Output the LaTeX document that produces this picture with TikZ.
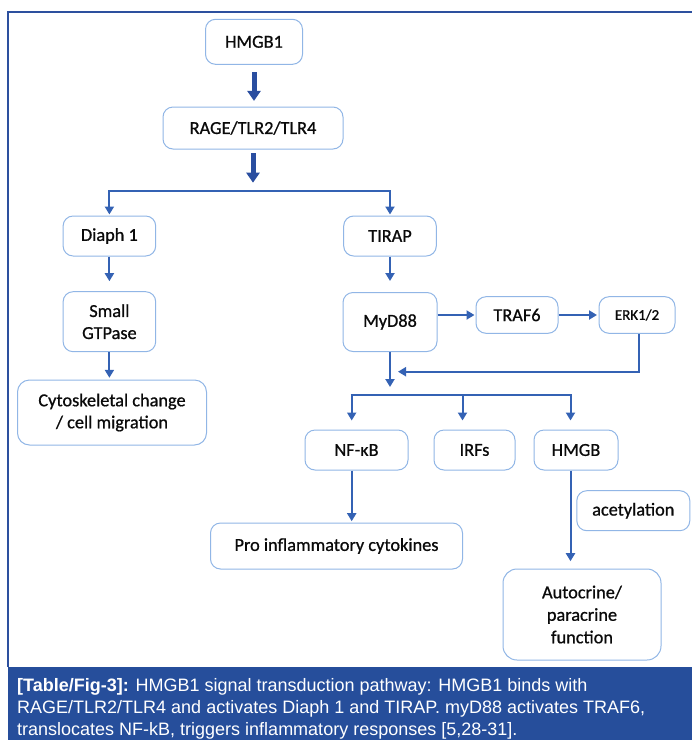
\documentclass[tikz,border=0pt]{standalone}
\usepackage{fontspec}
\setmainfont{Carlito}[FakeBold=0.8]
\newfontfamily\capfont{Liberation Sans}
\usetikzlibrary{arrows.meta}
\definecolor{boxc}{RGB}{145,182,230}
\definecolor{conc}{RGB}{52,98,180}
\definecolor{bigc}{RGB}{42,78,160}
\definecolor{framec}{RGB}{45,80,158}
\definecolor{bandc}{RGB}{38,78,155}
\definecolor{txtc}{RGB}{10,10,10}
\begin{document}
\begin{tikzpicture}[x=1pt,y=-1pt,
  nbox/.style={draw=boxc, line width=1pt, rounded corners=10pt, fill=white, text=txtc,
    font=\fontsize{18.3}{22}\selectfont, inner sep=0pt, align=center},
  conn/.style={draw=conc, line width=2pt, -{Triangle[width=9pt,length=8pt]}},
  plainline/.style={draw=conc, line width=2pt},
  bigarrow/.style={draw=bigc, line width=5pt, -{Triangle[width=13pt,length=10pt]}},
  captext/.style={anchor=base west, text=white, inner sep=0pt,
    font=\capfont\fontsize{18}{22}\selectfont}
]
\useasboundingbox (0,0) rectangle (692,740);

% frame and caption band
\fill[bandc] (8,667) rectangle (692,740);
\draw[framec, line width=1.5pt] (8,667) -- (8,12) -- (692,12);

% nodes
\node[nbox, minimum width=97pt, minimum height=45pt] (hmgb1) at (254,41.8) {HMGB1};
\node[nbox, minimum width=180pt, minimum height=42pt] (rage) at (253,128) {RAGE/TLR2/TLR4};
\node[nbox, minimum width=92.6pt, minimum height=40pt] (diaph) at (109.4,236) {Diaph 1};
\node[nbox, minimum width=92.6pt, minimum height=40pt] (tirap) at (390,236) {TIRAP};
\node[nbox, minimum width=92.6pt, minimum height=60pt] (small) at (109.4,321.7) {Small\\GTPase};
\node[nbox, minimum width=94pt, minimum height=59pt] (myd) at (390,322) {MyD88};
\node[nbox, minimum width=189pt, minimum height=65pt, rounded corners=12pt] (cyto) at (112,412.5) {Cytoskeletal change\\/ cell migration};
\node[nbox, minimum width=82pt, minimum height=36.6pt] (traf) at (517,315) {TRAF6};
\node[nbox, minimum width=76pt, minimum height=36.6pt, font=\fontsize{15}{18}\selectfont] (erk) at (637,315) {ERK1/2};
\node[nbox, minimum width=103pt, minimum height=40pt] (nfkb) at (356.5,450) {NF-κB};
\node[nbox, minimum width=81pt, minimum height=40pt] (irfs) at (474.5,450) {IRFs};
\node[nbox, minimum width=84pt, minimum height=40pt] (hmgb) at (576,450) {HMGB};
\node[nbox, minimum width=252pt, minimum height=46pt] (pro) at (336.5,546) {Pro inflammatory cytokines};
\node[nbox, minimum width=113pt, minimum height=40pt] (acet) at (633.3,510.7) {acetylation};
\node[nbox, minimum width=158pt, minimum height=91pt, rounded corners=14pt, font=\fontsize{18.3}{22.5}\selectfont] (auto) at (582,614.5) {Autocrine/\\paracrine\\function};

% coordinates
\coordinate (split1) at (250,190.7);
\coordinate (split2) at (390,394.5);
\coordinate (mrg) at (398,371.7);
\coordinate (b1) at (351.7,394.5);
\coordinate (b2) at (462.5,394.5);
\coordinate (b3) at (570.5,394.5);

% thick arrows
\draw[bigarrow, shorten <=7.4pt, shorten >=5.6pt] (hmgb1.south) -- (hmgb1.south |- rage.north);
\draw[bigarrow, shorten <=3.7pt, shorten >=8pt] (rage.south) -- (rage.south |- split1);

% first split
\draw[conn, {Triangle[width=9pt,length=8pt]}-{Triangle[width=9pt,length=8pt]}, shorten <=1pt, shorten >=1pt]
  (diaph.north) |- (split1) -| (tirap.north);

% left column
\draw[conn, shorten >=10pt] (diaph) -- (small);
\draw[conn, shorten >=1.7pt] (small.south) -- (small.south |- cyto.north);

% right column
\draw[conn, shorten >=11pt] (tirap) -- (myd);
\draw[conn, shorten >=1pt] (myd.east |- traf) -- (traf.west);
\draw[conn, shorten >=1.5pt] (traf.east) -- (erk.west);
\draw[conn] ([xshift=2pt]erk.south) |- (mrg);
\draw[conn, shorten >=7.5pt] (myd.south) -- (split2);

% second split
\draw[plainline] ([xshift=-1pt]b1) -- ([xshift=1pt]b3);
\draw[conn, shorten >=9pt] (b1) -- (b1 |- nfkb.north);
\draw[conn, shorten >=9pt] (b2) -- (b2 |- irfs.north);
\draw[conn, shorten >=9pt] (b3) -- (b3 |- hmgb.north);
\draw[conn, shorten >=1.3pt] (b1 |- nfkb.south) -- (b1 |- pro.north);
\draw[conn, shorten >=7.3pt] (b3 |- hmgb.south) -- (b3 |- auto.north);

% caption
\node[captext] (cap1) at (17,691) {\textbf{[Table/Fig-3]:} HMGB1 signal transduction pathway: HMGB1 binds with};
\node[captext] (cap2) at (17,713.5) {RAGE/TLR2/TLR4 and activates Diaph 1 and TIRAP. myD88 activates TRAF6,};
\node[captext] (cap3) at (17,735.5) {translocates NF-kB, triggers inflammatory responses [5,28-31].};
\end{tikzpicture}
\end{document}
